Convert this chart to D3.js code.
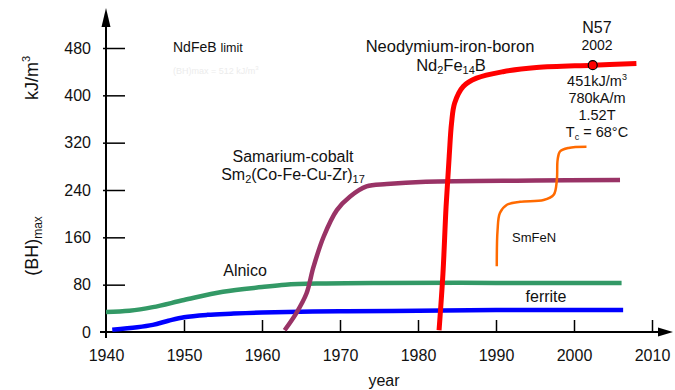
<!DOCTYPE html>
<html>
<head>
<meta charset="utf-8">
<title>Permanent magnets (BH)max</title>
<script src="https://d3js.org/d3.v7.min.js"></script>
<style>
  body { margin: 0; background: #fff; }
  svg { font-family: "Liberation Sans", Arial, sans-serif; }
</style>
</head>
<body>
<div id="chart"></div>
<script>
// tick labels
var xTicks = [1940, 1950, 1960, 1970, 1980, 1990, 2000, 2010];
var yTicks = [0, 80, 160, 240, 320, 400, 480];

// series: [year, kJ/m3]
var ferrite = [[1940.8, 4], [1944, 8], [1946, 12], [1948, 19], [1950, 25], [1953, 29], [1956, 31], [1960, 33],
  [1970, 35], [1980, 36], [1990, 37], [2006.3, 37]];
var alnico = [[1940, 34], [1943, 36], [1946, 42], [1950, 54], [1955, 68], [1960, 76], [1963, 80], [1967, 82],
  [1975, 83], [1990, 83], [2006.1, 83]];
var smco = [[1962.9, 3], [1964.4, 32], [1965.7, 65], [1966.6, 110], [1967.9, 161], [1969.6, 206],
  [1971.3, 229], [1973.4, 246], [1976, 250], [1981, 254], [1995, 256], [2005.9, 257]];
var ndfeb = [[1982.7, 3], [1983.2, 99], [1983.6, 212], [1984.0, 297], [1984.3, 353], [1984.7, 387],
  [1985.8, 415], [1987.5, 429], [1990.9, 440], [1995.2, 447], [2002.4, 451], [2008, 454]];
var smfen = [[1990.1, 111], [1990.2, 172], [1990.5, 201], [1991.4, 215], [1993.1, 220], [1996.1, 223],
  [1997.4, 232], [1997.8, 257], [1997.9, 291], [1998.2, 305], [1999.3, 311], [2001.6, 313]];
var n57 = [2002.4, 451];

var W = 675, H = 390;
var svg = d3.select("#chart").append("svg")
  .attr("width", W).attr("height", H);

var x = d3.scaleLinear().domain([1940, 2010]).range([106, 652]);
var y = d3.scaleLinear().domain([0, 480]).range([332, 48]);

// x axis (ticks point up)
var gx = svg.append("g")
  .attr("transform", "translate(0," + y(0) + ")")
  .call(d3.axisBottom(x).tickValues(xTicks).tickFormat(d3.format("d"))
    .tickSizeInner(-12).tickSizeOuter(0).tickPadding(18));
gx.select(".domain").remove();
gx.selectAll(".tick line").attr("stroke", "#000").attr("stroke-width", 1.5);
gx.selectAll(".tick").filter(function(d) { return d === 1940; }).select("line").remove();
gx.selectAll("text").attr("font-size", 16).attr("fill", "#111")
  .attr("font-family", "Liberation Sans, Arial, sans-serif");

// y axis (ticks point right)
var gy = svg.append("g")
  .attr("transform", "translate(" + x(1940) + ",0)")
  .call(d3.axisLeft(y).tickValues(yTicks)
    .tickSizeInner(-19).tickSizeOuter(0).tickPadding(15));
gy.select(".domain").remove();
gy.selectAll(".tick line").attr("stroke", "#000").attr("stroke-width", 1.5).attr("x1", -3);
gy.selectAll(".tick").filter(function(d) { return d === 0; }).select("line").remove();
gy.selectAll("text").attr("font-size", 16).attr("fill", "#111")
  .attr("font-family", "Liberation Sans, Arial, sans-serif");

// axis lines with arrows
svg.append("line").attr("x1", 100).attr("x2", 662).attr("y1", y(0)).attr("y2", y(0))
  .attr("stroke", "#000").attr("stroke-width", 2);
svg.append("path").attr("d", "M673," + y(0) + "L658," + (y(0) - 4.5) + "L658," + (y(0) + 4.5) + "Z")
  .attr("fill", "#000");
svg.append("line").attr("x1", x(1940)).attr("x2", x(1940)).attr("y1", y(0) + 6).attr("y2", 22)
  .attr("stroke", "#000").attr("stroke-width", 2);
svg.append("path").attr("d", "M" + x(1940) + ",8L" + (x(1940) - 4.5) + ",27L" + (x(1940) + 4.5) + ",27Z")
  .attr("fill", "#000");

// curves
var line = d3.line()
  .x(function(d) { return x(d[0]); })
  .y(function(d) { return y(d[1]); })
  .curve(d3.curveCatmullRom.alpha(0.5));

function drawSeries(data, color, width) {
  svg.append("path").datum(data)
    .attr("fill", "none").attr("stroke", color).attr("stroke-width", width)
    .attr("stroke-linecap", "butt").attr("stroke-linejoin", "round")
    .attr("d", line);
}
drawSeries(alnico, "#339966", 4.5);
drawSeries(ferrite, "#0000ff", 4.5);
drawSeries(smco, "#993366", 4.5);
drawSeries(smfen, "#ff6a00", 2.5);
drawSeries(ndfeb, "#ff0000", 5);

svg.append("circle").attr("cx", x(n57[0])).attr("cy", y(n57[1])).attr("r", 4.5)
  .attr("fill", "#ff0000").attr("stroke", "#000").attr("stroke-width", 1.2);

// text helper
function label(px, py, size, anchor) {
  return svg.append("text").attr("x", px).attr("y", py)
    .attr("font-size", size).attr("text-anchor", anchor || "middle").attr("fill", "#111");
}

// axis titles
var t1 = svg.append("text").attr("transform", "translate(38,78) rotate(-90)")
  .attr("text-anchor", "middle").attr("font-size", 18).attr("fill", "#111");
t1.append("tspan").text("kJ/m");
t1.append("tspan").attr("font-size", 11).attr("dy", -8).text("3");

var t2 = svg.append("text").attr("transform", "translate(38,246) rotate(-90)")
  .attr("text-anchor", "middle").attr("font-size", 18).attr("fill", "#111");
t2.append("tspan").text("(BH)");
t2.append("tspan").attr("font-size", 12).attr("dy", 4).text("max");

label(384, 386, 16).text("year");

// annotations
var lim = label(173, 52, 14, "start");
lim.append("tspan").text("NdFeB ");
lim.append("tspan").attr("font-size", 12.5).text("limit");
var faint = label(173, 74, 9, "start").attr("fill", "#ececec");
faint.append("tspan").text("(BH)max = 512 kJ/m");
faint.append("tspan").attr("font-size", 6).attr("dy", -4).text("3");

label(450, 52, 16.5).text("Neodymium-iron-boron");
var nd = label(451, 71, 16.5);
nd.append("tspan").text("Nd");
nd.append("tspan").attr("font-size", 11).attr("dy", 3).text("2");
nd.append("tspan").attr("dy", -3).text("Fe");
nd.append("tspan").attr("font-size", 11).attr("dy", 3).text("14");
nd.append("tspan").attr("dy", -3).text("B");

label(597, 33, 16).text("N57");
label(597, 50, 14).text("2002");
var b1 = label(597, 86, 14.5);
b1.append("tspan").text("451kJ/m");
b1.append("tspan").attr("font-size", 9).attr("dy", -6).text("3");
label(597, 103, 14.5).text("780kA/m");
label(597, 120, 14.5).text("1.52T");
var tc = label(597, 137, 14.5);
tc.append("tspan").text("T");
tc.append("tspan").attr("font-size", 9).attr("dy", 3).text("c");
tc.append("tspan").attr("dy", -3).text(" = 68°C");

label(293, 162, 16).text("Samarium-cobalt");
var sc = label(293, 180, 16);
sc.append("tspan").text("Sm");
sc.append("tspan").attr("font-size", 11).attr("dy", 3).text("2");
sc.append("tspan").attr("dy", -3).text("(Co-Fe-Cu-Zr)");
sc.append("tspan").attr("font-size", 11).attr("dy", 3).text("17");

label(245, 276, 16).text("Alnico");
label(534, 242, 13).text("SmFeN");
label(546, 302, 16).text("ferrite");
</script>
</body>
</html>
